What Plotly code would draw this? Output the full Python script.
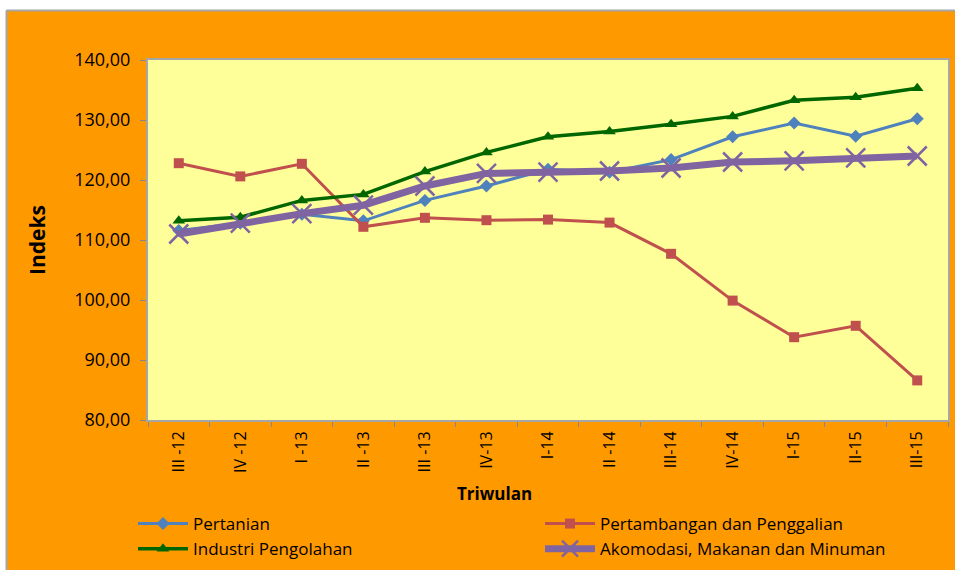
import plotly.graph_objects as go

categories = ["III -12", "IV -12", "I -13", "II -13", "III -13", "IV-13", "I-14",
              "II -14", "III-14", "IV-14", "I-15", "II-15", "III-15"]

pertanian = [111.6, 112.8, 114.3, 113.2, 116.6, 119.0, 121.8, 121.3, 123.4, 127.2, 129.5, 127.3, 130.2]
pertambangan = [122.8, 120.6, 122.7, 112.2, 113.7, 113.3, 113.4, 112.9, 107.7, 99.9, 93.8, 95.7, 86.6]
industri = [113.2, 113.8, 116.6, 117.6, 121.4, 124.6, 127.2, 128.1, 129.3, 130.6, 133.3, 133.8, 135.3]
akomodasi = [111.0, 112.8, 114.4, 115.8, 119.0, 121.1, 121.3, 121.5, 122.0, 123.0, 123.2, 123.7, 124.0]

series_names = ["Pertanian", "Pertambangan dan Penggalian", "Industri Pengolahan",
                "Akomodasi, Makanan dan Minuman"]

FONT = "Open Sans"

fig = go.Figure()
fig.add_trace(go.Scatter(x=categories, y=pertanian, name=series_names[0], mode="lines+markers",
                         line=dict(color="#4F81BD", width=3),
                         marker=dict(symbol="diamond", size=10, color="#4F81BD")))
fig.add_trace(go.Scatter(x=categories, y=pertambangan, name=series_names[1], mode="lines+markers",
                         line=dict(color="#C0504D", width=3),
                         marker=dict(symbol="square", size=10, color="#C0504D")))
fig.add_trace(go.Scatter(x=categories, y=industri, name=series_names[2], mode="lines+markers",
                         line=dict(color="#006600", width=3.5),
                         marker=dict(symbol="triangle-up", size=11, color="#006600")))
fig.add_trace(go.Scatter(x=categories, y=akomodasi, name=series_names[3], mode="lines+markers",
                         line=dict(color="#8064A2", width=7),
                         marker=dict(symbol="x-thin", size=19, color="#8064A2",
                                     line=dict(color="#8064A2", width=2.5))))

W, H = 955, 570
L, R, T, B = 148, 7, 60, 150
pw, ph = W - L - R, H - T - B


def px(x):
    return (x - L) / pw


def py(y):
    return (H - B - y) / ph


fig.update_layout(
    width=W, height=H,
    margin=dict(l=L, r=R, t=T, b=B, pad=0, autoexpand=False),
    paper_bgcolor="#FF9900",
    plot_bgcolor="#FFFF99",
    font=dict(family=FONT, size=16, color="#000000"),
    separators=",.",
    showlegend=True,
    legend=dict(orientation="h", x=px(133), y=py(506), xanchor="left", yanchor="top",
                entrywidth=342, entrywidthmode="pixels", bgcolor="rgba(0,0,0,0)",
                font=dict(family=FONT, size=17), tracegroupgap=0, itemwidth=50),
    xaxis=dict(type="category", tickangle=-90, ticks="outside", tickson="boundaries",
               ticklen=5, tickcolor="#888888", showline=True, linecolor="#A6A6A6",
               linewidth=2, mirror=True, showgrid=False, tickfont=dict(size=16),
               range=[-0.5, 12.5], ticklabelstandoff=3, automargin=False),
    yaxis=dict(range=[80, 140], dtick=10, tickformat=".2f", ticks="outside", ticklen=6,
               tickcolor="#888888", showline=True, linecolor="#A6A6A6", linewidth=2,
               mirror=True, showgrid=False, zeroline=False, tickfont=dict(size=18),
               ticklabelstandoff=6, automargin=False,
               title=dict(text="<b>Indeks</b>", font=dict(size=21), standoff=23)),
    shapes=[
        dict(type="rect", xref="paper", yref="paper", x0=px(-5), x1=px(W + 20), y0=py(10), y1=py(-5),
             fillcolor="white", line=dict(width=0), layer="below"),
        dict(type="rect", xref="paper", yref="paper", x0=px(-5), x1=px(6), y0=py(H + 20), y1=py(-5),
             fillcolor="white", line=dict(width=0), layer="below"),
        dict(type="line", xref="paper", yref="paper", x0=px(6.5), x1=px(W + 20), y0=py(10.5), y1=py(10.5),
             line=dict(color="#A6A6A6", width=2)),
        dict(type="line", xref="paper", yref="paper", x0=px(6.5), x1=px(6.5), y0=py(10.5), y1=py(H + 20),
             line=dict(color="#A6A6A6", width=2)),
    ],
    annotations=[
        dict(text="<b>Triwulan</b>", xref="paper", yref="paper", x=px(494), y=py(493),
             xanchor="center", yanchor="middle", showarrow=False, font=dict(size=17)),
    ],
)

fig.write_html("out.html", config={"displayModeBar": False},
               post_script="document.body.style.margin='0px';")
